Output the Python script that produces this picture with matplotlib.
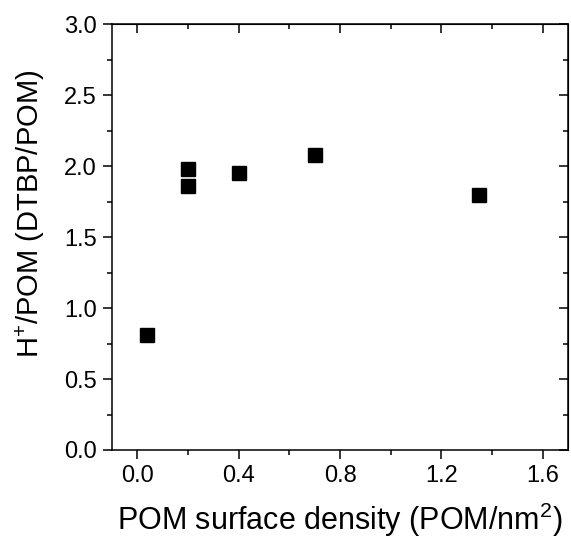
import matplotlib
matplotlib.use("Agg")
import matplotlib.pyplot as plt
from matplotlib.ticker import MultipleLocator, FormatStrFormatter

# POM surface density (POM/nm^2) vs H+/POM (DTBP/POM)
surface_density = [0.04, 0.20, 0.20, 0.40, 0.70, 1.35]
h_per_pom = [0.81, 1.98, 1.86, 1.95, 2.08, 1.80]

plt.rcParams["font.family"] = ["Liberation Sans", "DejaVu Sans"]
plt.rcParams["mathtext.fontset"] = "custom"
plt.rcParams["mathtext.rm"] = "Liberation Sans"
plt.rcParams["xtick.labelsize"] = 17
plt.rcParams["ytick.labelsize"] = 17

fig = plt.figure(figsize=(5.71, 5.38), dpi=100)
ax = fig.add_axes([0.196, 0.1636, 0.799, 0.7914])

ax.plot(surface_density, h_per_pom, linestyle="none", marker="s",
        markersize=10.5, color="black")

ax.set_xlim(-0.1, 1.7)
ax.set_ylim(0.0, 3.0)
ax.xaxis.set_major_locator(MultipleLocator(0.4))
ax.xaxis.set_minor_locator(MultipleLocator(0.2))
ax.yaxis.set_major_locator(MultipleLocator(0.5))
ax.yaxis.set_minor_locator(MultipleLocator(0.25))
ax.xaxis.set_major_formatter(FormatStrFormatter("%.1f"))
ax.yaxis.set_major_formatter(FormatStrFormatter("%.1f"))

for side in ax.spines.values():
    side.set_linewidth(1.1)

ax.tick_params(which="both", direction="out", width=1.1,
               top=False, right=False)
ax.tick_params(which="major", length=6.5, pad=4.5)
ax.tick_params(which="minor", length=3.3)

# inward ticks mirrored on the top and right axes
top = ax.secondary_xaxis("top")
top.xaxis.set_major_locator(MultipleLocator(0.4))
top.xaxis.set_minor_locator(MultipleLocator(0.2))
top.tick_params(which="both", direction="in", width=1.1, labeltop=False)
top.tick_params(which="major", length=6.5)
top.tick_params(which="minor", length=3.3)
right = ax.secondary_yaxis("right")
right.yaxis.set_major_locator(MultipleLocator(0.5))
right.yaxis.set_minor_locator(MultipleLocator(0.25))
right.tick_params(which="both", direction="in", width=1.1, labelright=False)
right.tick_params(which="major", length=6.5)
right.tick_params(which="minor", length=3.3)

ax.set_xlabel("POM surface density (POM/nm$^{\\mathregular{2}}$)", fontsize=22, labelpad=10)
ax.set_ylabel("H$^{\\mathregular{+}}$/POM (DTBP/POM)", fontsize=21, labelpad=12)
ax.yaxis.label.set_y(0.554)

fig.savefig("out.png", dpi=100)
